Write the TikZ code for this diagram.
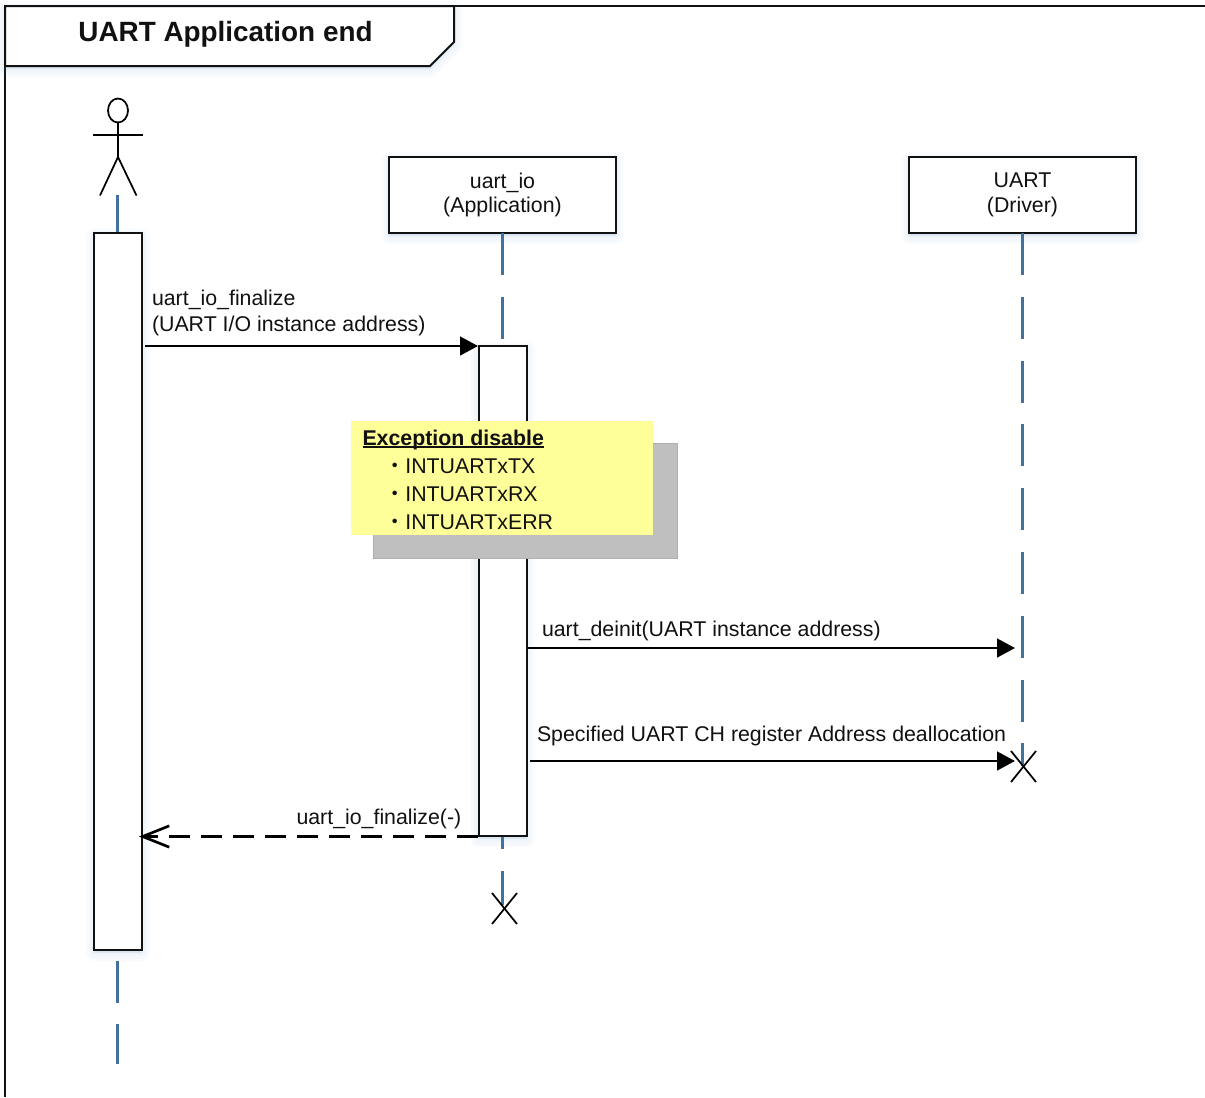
\documentclass[tikz,border=0pt]{standalone}
\usepackage{fontspec}
\setmainfont{Liberation Sans}
\newfontfamily\cjkdot{Noto Sans CJK JP}
\usetikzlibrary{arrows.meta,shapes.geometric}
\definecolor{lifeblue}{HTML}{41719C}
\definecolor{softblue}{HTML}{5B9BD5}
\definecolor{notey}{HTML}{FFFF99}
\definecolor{noteshade}{HTML}{BFBFBF}
\definecolor{inkdark}{HTML}{111111}
\newcommand\closeul[1]{\leavevmode\setbox0=\hbox{#1}\rlap{\rule[-2.1pt]{\wd0}{1.3pt}}\box0}
\tikzset{
  softshadow/.style={
    preaction={draw=softblue,fill=softblue,opacity=.03,line width=12pt,line join=round,transform canvas={yshift=-2.5pt}},
    preaction={draw=softblue,fill=softblue,opacity=.03,line width=8pt,line join=round,transform canvas={yshift=-2.5pt}},
    preaction={draw=softblue,fill=softblue,opacity=.03,line width=4pt,line join=round,transform canvas={yshift=-2pt}},
    preaction={draw=softblue,fill=softblue,opacity=.03,line width=1pt,line join=round,transform canvas={yshift=-1.5pt}}},
  framepath/.style={draw=inkdark,line width=1.5pt,line join=miter},
  objbox/.style={softshadow,draw=inkdark,fill=white,line width=1.5pt,inner sep=0pt,outer sep=0pt,text=inkdark,
    minimum width=170.25pt,minimum height=57pt,align=center,font=\fontsize{16}{18.8}\selectfont},
  actbar/.style={softshadow,draw=inkdark,fill=white,line width=1.5pt,inner sep=0pt,outer sep=0pt,minimum width=36pt},
  lifeline/.style={draw=lifeblue,line width=1.9pt,dash pattern=on 31.5pt off 16.35pt},
  callmsg/.style={draw=black,line width=2pt,-{Triangle[length=13.5pt,width=14pt]},shorten >=0pt},
  retmsg/.style={draw=black,line width=2pt,dash pattern=on 15.75pt off 8.25pt,-{Straight Barb[length=20pt,width=16pt,line width=2pt]}},
  msgtext/.style={inner sep=0pt,outer sep=0pt,anchor=base west,text=inkdark,font=\fontsize{16}{19.5}\selectfont,align=left},
  stickman/.style={draw=black,line width=1.3pt},
  deathmark/.style={draw=black,line width=1.3pt},
  notetext/.style={inner sep=0pt,outer sep=0pt,anchor=base west,text=inkdark,font=\fontsize{16}{18}\selectfont},
}
\begin{document}
\begin{tikzpicture}[x=0.75pt,y=-0.75pt]
\useasboundingbox (0,0) rectangle (1205,1097);
\fill[white] (0,0) rectangle (1205,1097);
% frame
\draw[framepath] (5,1097) -- (5,6) -- (1205,6);
\draw[framepath,fill=white,softshadow] (5,6) -- (454,6) -- (454,42) -- (430,66) -- (5,66) -- cycle;
\node[inner sep=0pt,anchor=base,text=inkdark] (title) at (225.5,41) {\fontsize{20.9}{24}\selectfont\bfseries UART Application end};
% actor
\node[stickman,ellipse,inner sep=0pt,minimum width=15pt,minimum height=18pt,outer sep=0pt] (head) at (118,110.5) {};
\coordinate (armL) at (93,135);
\coordinate (armR) at (143,135);
\coordinate (hip) at (118,157);
\coordinate (legL) at (100,195.5);
\coordinate (legR) at (136.5,195.5);
\draw[stickman] (head.south) -- (hip);
\draw[stickman] (armL) -- (armR);
\draw[stickman] (legL) -- (hip) -- (legR);
% lifelines
\coordinate (actortop) at (117.7,195);
\coordinate (actorend) at (117.7,1064);
\draw[lifeline] (actortop) -- (actorend);
\node[objbox] (appbox) at (502.5,195) {\raisebox{-.7pt}{uart\_io}\\\raisebox{-.4pt}{(Application)}};
\node[objbox] (drvbox) at (1022.5,195) {\raisebox{-.7pt}{UART}\\\raisebox{-.4pt}{(Driver)}};
\coordinate (append) at (502.5,905);
\coordinate (drvend) at (1022.5,766);
\draw[lifeline] (appbox.south) -- (append);
\draw[lifeline] (drvbox.south) -- (drvend);
% activations
\node[actbar,minimum height=537.75pt] (actorbar) at (118,591.5) {};
\node[actbar,minimum height=367.5pt] (appbar) at (502.5,591) {};
% death marks
\coordinate (x1a) at (492,893); \coordinate (x1b) at (517,924);
\coordinate (x1c) at (517,893); \coordinate (x1d) at (492,924);
\draw[deathmark] (x1a) -- (x1b); \draw[deathmark] (x1c) -- (x1d);
\coordinate (x2a) at (1011,751); \coordinate (x2b) at (1036,782);
\coordinate (x2c) at (1036,751); \coordinate (x2d) at (1011,782);
\draw[deathmark] (x2a) -- (x2b); \draw[deathmark] (x2c) -- (x2d);
% messages
\coordinate (m1s) at (145,346); \coordinate (m1e) at (478,346);
\draw[callmsg] (m1s) -- (m1e);
\node[msgtext] (m1t) at (152,305) {uart\_io\_finalize};
\node[msgtext] (m1u) at (152,331) {(UART I/O instance address)};
\coordinate (m2s) at (528,648); \coordinate (m2e) at (1015,648);
\draw[callmsg] (m2s) -- (m2e);
\node[msgtext] (m2t) at (542,636) {uart\_deinit(UART instance address)};
\coordinate (m3s) at (530,761); \coordinate (m3e) at (1015,761);
\draw[callmsg] (m3s) -- (m3e);
\node[msgtext] (m3t) at (537,741) {Specified UART CH register Address deallocation};
\coordinate (m4s) at (478,836.5); \coordinate (m4e) at (139,836.5);
\draw[retmsg] (m4s) -- (m4e);
\node[msgtext] (m4t) at (296.5,824) {uart\_io\_finalize(-)};
% note
\node[draw=noteshade!92!black,fill=noteshade,line width=.6pt,inner sep=0pt,minimum width=228pt,minimum height=86.25pt] (noteshadow) at (525,500.5) {};
\node[fill=notey,inner sep=0pt,outer sep=0pt,minimum width=226.5pt,minimum height=85.5pt] (notebg) at (502,478) {};
\node[notetext] (n0) at (362.5,445) {\bfseries\closeul{Exception disable}};
\node[notetext] (n1) at (384,473) {{\cjkdot ・}INTUARTxTX};
\node[notetext] (n2) at (384,501) {{\cjkdot ・}INTUARTxRX};
\node[notetext] (n3) at (384,529) {{\cjkdot ・}INTUARTxERR};
\end{tikzpicture}
\end{document}
